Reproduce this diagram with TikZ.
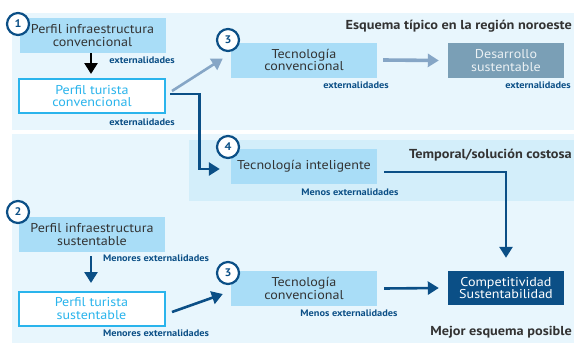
\documentclass[tikz,border=0pt]{standalone}
\usepackage{fontspec}
\setmainfont{PT Sans}[FakeStretch=1.1]
\usetikzlibrary{arrows.meta,calc}
\definecolor{panelbg}{HTML}{E8F6FD}
\definecolor{tempbg}{HTML}{D3EEFA}
\definecolor{lightbox}{HTML}{A9DDF7}
\definecolor{darkblue}{HTML}{0B4F86}
\definecolor{cyanb}{HTML}{2AB4EC}
\definecolor{slate}{HTML}{7A9FB6}
\definecolor{grayblue}{HTML}{86A6C6}
\definecolor{txtgray}{HTML}{333333}
\tikzset{
  boxtext/.style={font=\fontsize{12.8}{12.5}\selectfont, align=center, inner sep=0pt},
  lbox/.style={boxtext, fill=lightbox, text=txtgray, minimum width=146pt, minimum height=35pt},
  wbox/.style={boxtext, fill=white, draw=cyanb, line width=2pt, text=cyanb, minimum width=146pt, minimum height=34pt},
  sbox/.style={boxtext, fill=slate, text=white!85!slate, minimum width=116pt, minimum height=35pt},
  dbox/.style={boxtext, fill=darkblue, text=white, minimum width=116pt, minimum height=34pt},
  numc/.style={circle, draw=darkblue, line width=2.2pt, fill=white, minimum size=22pt, inner sep=0pt, text=darkblue, font=\bfseries\fontsize{11}{11}\selectfont},
  lab/.style={font=\bfseries\fontsize{9.4}{10}\selectfont, text=darkblue, inner sep=0pt},
  head/.style={font=\bfseries\fontsize{13}{13}\selectfont, text=txtgray, inner sep=0pt, anchor=east},
  arr/.style={line width=2.6pt, -{Triangle[width=13pt,length=11pt]}},
}
\begin{document}
\begin{tikzpicture}[x=1pt,y=-1pt]
\useasboundingbox (0,0) rectangle (574,343);
\fill[white] (0,0) rectangle (574,343);
% panels
\fill[panelbg] (12,13) rectangle (574,130);
\fill[panelbg] (12,134) rectangle (574,343);
\fill[tempbg] (189,140) rectangle (574,201);
% headings
\node[head] (h1) at (572,26.5) {Esquema típico en la región noroeste};
\node[head] (h2) at (572,155) {Temporal/solución costosa};
\node[head] (h3) at (572,332) {Mejor esquema posible};
% boxes
\node[lbox] (pic) at (92.5,35.5) {Perfil infraestructura\\convencional};
\node[wbox] (ptc) at (92,96) {Perfil turista\\convencional};
\node[lbox] (tct) at (304,60) {Tecnología\\convencional};
\node[sbox] (ds) at (506,60.5) {Desarrollo\\sustentable};
\node[lbox] (ti) at (304,166) {Tecnología inteligente};
\node[lbox] (pis) at (92,234.5) {Perfil infraestructura\\sustentable};
\node[wbox] (pts) at (91.5,308.5) {Perfil turista\\sustentable};
\node[lbox] (tcb) at (304,288.5) {Tecnología\\convencional};
\node[dbox] (cs) at (506,288) {Competitividad\\Sustentabilidad};
% circles
\node[numc] (n1) at (18,24) {1};
\node[numc] (n3a) at (228,40) {3};
\node[numc] (n4) at (228,147) {4};
\node[numc] (n2) at (18,212) {2};
\node[numc] (n3b) at (228,273) {3};
% labels
\node[lab] (l1) at (142,60) {externalidades};
\node[lab] (l2) at (142,122) {externalidades};
\node[lab] (l3) at (356,85) {externalidades};
\node[lab] (l4) at (538,85) {externalidades};
\node[lab] (l5) at (350,192) {Menos externalidades};
\node[lab] (l6) at (349,313) {Menos externalidades};
\node[lab] (l7) at (156,258) {Menores externalidades};
\node[lab] (l8) at (156,333) {Menores externalidades};
% connectors
\draw[arr, black] ([shift={(-1.5,0)}]pic.south) -- ([shift={(-1,-4)}]ptc.north);
\draw[arr, grayblue] ([shift={(6,-5)}]ptc.east) -- ([shift={(-8,-1.5)}]tct.west);
\draw[arr, darkblue] ([shift={(4,-2)}]ptc.east) -| ($(ptc.east)!0.5!(ti.west)+(1,0)$) |- ([shift={(-11,3)}]ti.west);
\draw[arr, grayblue, line width=3.6pt] ([xshift=6]tct.east) -- ([xshift=-9]ds.west);
\draw[arr, darkblue] ([shift={(7,6)}]ti.east) -| ([shift={(0,-13)}]cs.north);
\draw[arr, darkblue] ([xshift=7]tcb.east) -- ([xshift=-9]cs.west);
\draw[arr, darkblue] ([shift={(-1,4)}]pis.south) -- ([shift={(-0.5,-7.5)}]pts.north);
\draw[arr, darkblue] ([shift={(6.5,3.5)}]pts.east) -- ([shift={(-8,5.5)}]tcb.west);
\end{tikzpicture}
\end{document}
